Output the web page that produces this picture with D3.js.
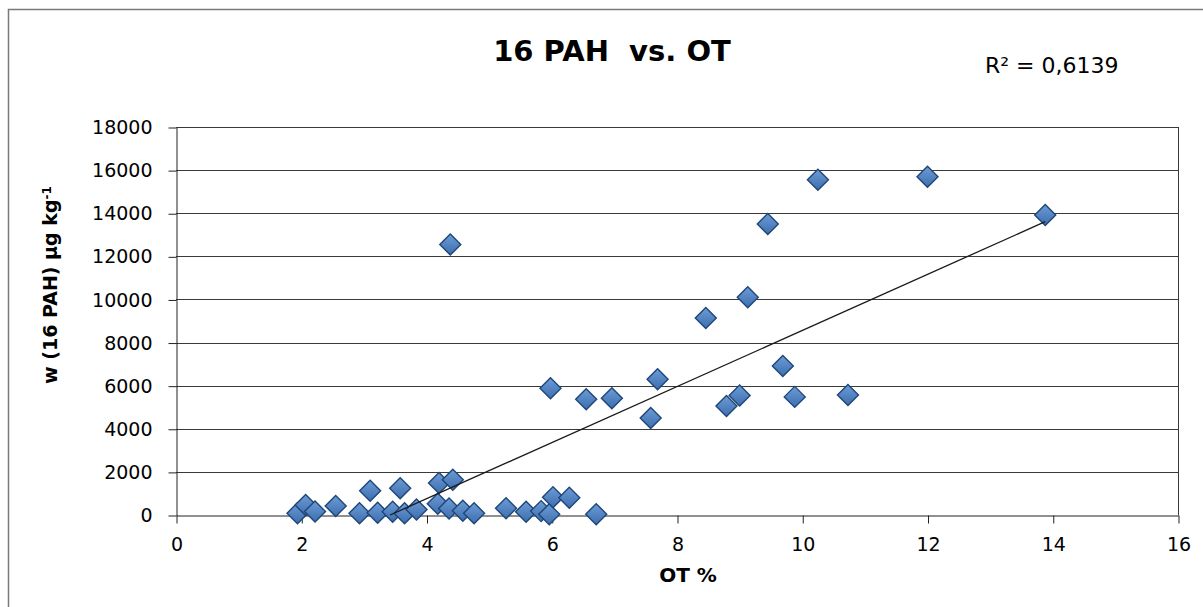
<!DOCTYPE html>
<html>
<head>
<meta charset="utf-8">
<script src="https://cdn.jsdelivr.net/npm/d3@7"></script>
<style>
  html, body { margin: 0; padding: 0; background: #fff; }
  svg { display: block; }
  text { font-family: "DejaVu Sans", Verdana, sans-serif; fill: #000; }
</style>
</head>
<body>
<svg id="chart" width="1203" height="607"></svg>
<script>
// ---- data ----
const otPercent = [1.94, 2.07, 2.22, 2.55, 2.93, 3.10, 3.22, 3.46, 3.58, 3.65,
                   3.84, 4.18, 4.20, 4.36, 4.38, 4.42, 4.58, 4.76, 5.27, 5.59,
                   5.83, 5.96, 5.98, 6.02, 6.28, 6.55, 6.71, 6.96, 7.58, 7.69,
                   8.46, 8.79, 9.00, 9.13, 9.45, 9.69, 9.88, 10.25, 10.73, 12.00,
                   13.88];
const pah16 = [80, 460, 160, 420, 80, 1130, 100, 150, 1240, 80,
               260, 520, 1480, 300, 12550, 1630, 200, 80, 310, 150,
               180, 30, 5880, 820, 800, 5370, 40, 5420, 4500, 6300,
               9140, 5060, 5540, 10100, 13500, 6910, 5480, 15550, 5570, 15690,
               13920];
const xTicks = [0, 2, 4, 6, 8, 10, 12, 14, 16];
const yTicks = [0, 2000, 4000, 6000, 8000, 10000, 12000, 14000, 16000, 18000];
const trendSlope = 1301;
const trendIntercept = -4449;
const titleText = "16 PAH  vs. OT";
const rSquaredText = "R² = 0,6139";
const xLabel = "OT %";
const yLabel = "w (16 PAH) μg kg";
const yLabelSup = "-1";

// ---- layout ----
const svg = d3.select("#chart");
const plot = { left: 176, right: 1178, top: 127, bottom: 515 };

const x = d3.scaleLinear().domain([0, 16]).range([plot.left, plot.right]);
const y = d3.scaleLinear().domain([0, 18000]).range([plot.bottom, plot.top]);

// outer chart border
svg.append("rect")
  .attr("x", 8.5).attr("y", 9.5)
  .attr("width", 1300).attr("height", 700)
  .attr("fill", "none").attr("stroke", "#7a7a7a").attr("stroke-width", 1.5);

// gradient for markers
const defs = svg.append("defs");
const grad = defs.append("linearGradient").attr("id", "mk")
  .attr("x1", "0").attr("y1", "0").attr("x2", "0").attr("y2", "1");
grad.append("stop").attr("offset", "0%").attr("stop-color", "#6d9dd6");
grad.append("stop").attr("offset", "100%").attr("stop-color", "#3c6dae");

// gridlines
svg.append("g").selectAll("line").data(yTicks.filter(d => d > 0)).join("line")
  .attr("x1", plot.left).attr("x2", plot.right)
  .attr("y1", d => Math.round(y(d)) + 0.5).attr("y2", d => Math.round(y(d)) + 0.5)
  .attr("stroke", "#3a3a3a").attr("stroke-width", 1);

// right border of plot area
svg.append("line")
  .attr("x1", plot.right + 0.5).attr("x2", plot.right + 0.5)
  .attr("y1", plot.top).attr("y2", plot.bottom)
  .attr("stroke", "#3a3a3a").attr("stroke-width", 1);

// axes
const yAxis = svg.append("g")
  .attr("transform", `translate(${plot.left + 0.5},0.5)`)
  .call(d3.axisLeft(y).tickValues(yTicks).tickSize(8).tickSizeOuter(0)
        .tickPadding(16).tickFormat(d3.format("d")));
const xAxis = svg.append("g")
  .attr("transform", `translate(0.5,${Math.round(plot.bottom) + 0.5})`)
  .call(d3.axisBottom(x).tickValues(xTicks).tickSize(8).tickSizeOuter(0)
        .tickPadding(14).tickFormat(d3.format("d")));
[xAxis, yAxis].forEach(g => {
  g.selectAll("path, line").attr("stroke", "#222").attr("stroke-width", 1);
  g.selectAll("text").style("font-family", '"DejaVu Sans", Verdana, sans-serif')
   .style("font-size", "19px").attr("fill", "#000");
});

// markers
const r = 10.5;
const diamond = `M0,${-r}L${r},0L0,${r}L${-r},0Z`;
const pts = otPercent.map((v, i) => ({ x: v, y: pah16[i] }));
svg.append("g").selectAll("path").data(pts).join("path")
  .attr("d", diamond)
  .attr("transform", d => `translate(${x(d.x)},${y(d.y)})`)
  .attr("fill", "url(#mk)")
  .attr("stroke", "#1f4677").attr("stroke-width", 1.4);

// trend line (clipped at y = 0)
const xMin = Math.max(d3.min(otPercent), -trendIntercept / trendSlope);
const xMax = d3.max(otPercent);
svg.append("path")
  .datum([xMin, xMax])
  .attr("d", d3.line().x(d => x(d)).y(d => y(trendSlope * d + trendIntercept)))
  .attr("fill", "none").attr("stroke", "#1a1a1a").attr("stroke-width", 1.3);

// title
svg.append("text")
  .attr("x", 612).attr("y", 61)
  .attr("text-anchor", "middle")
  .style("white-space", "pre")
  .style("font-size", "29px").style("font-weight", "bold")
  .text(titleText);

// R squared
svg.append("text")
  .attr("x", 985).attr("y", 73)
  .style("font-size", "22px")
  .text(rSquaredText);

// x axis label
svg.append("text")
  .attr("x", 688).attr("y", 582)
  .attr("text-anchor", "middle")
  .style("font-size", "20px").style("font-weight", "bold")
  .text(xLabel);

// y axis label
const yl = svg.append("text")
  .attr("transform", "translate(57,285) rotate(-90)")
  .attr("text-anchor", "middle")
  .style("font-size", "19px").style("font-weight", "bold");
yl.append("tspan").text(yLabel);
yl.append("tspan").attr("dy", "-0.5em").style("font-size", "12px").text(yLabelSup);
</script>
</body>
</html>
